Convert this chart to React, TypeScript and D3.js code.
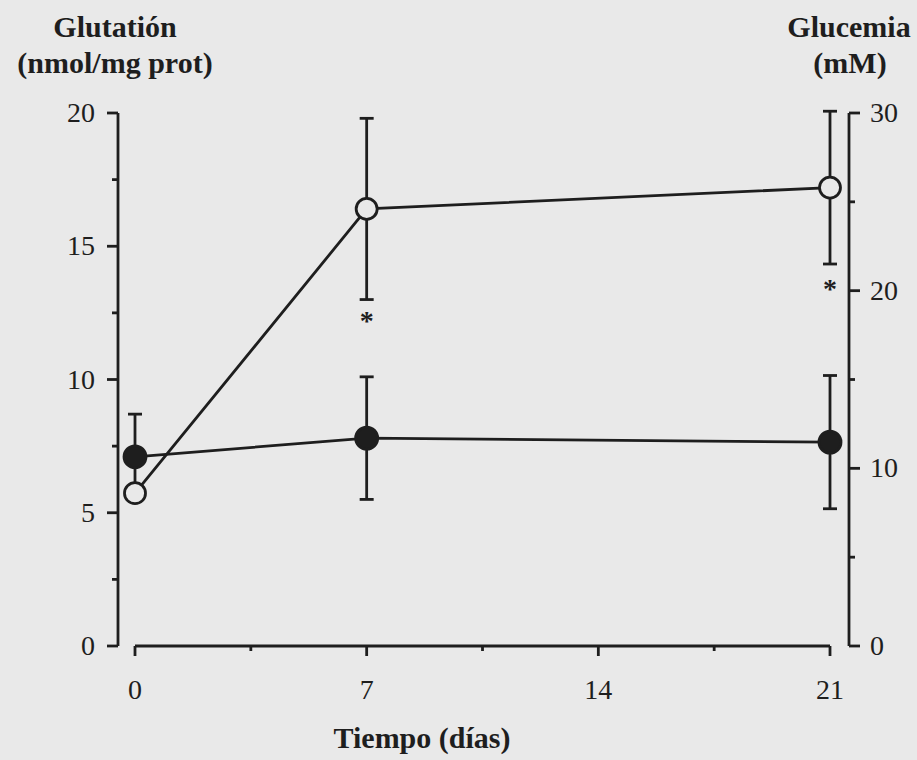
import React, { useEffect, useRef } from 'react';
import * as d3 from 'd3';

// days sampled
const days = [0, 7, 21];
// Glutatión (nmol/mg prot), filled circles, left axis
const glutation = [7.1, 7.8, 7.65];
const glutationErr = [1.6, 2.3, 2.5];
// Glucemia (mM), open circles, right axis
const glucemia = [8.6, 24.6, 25.8];
const glucemiaErr = [0, 5.1, 4.3];
// significance marks (y in mM)
const starDays = [7, 21];
const starY = [18.5, 20.3];

const xMajor = [0, 7, 14, 21];
const xMinor = [3.5, 10.5, 17.5];
const leftMajor = [0, 5, 10, 15, 20];
const leftMinor = [2.5, 7.5, 12.5, 17.5];
const rightMajor = [0, 10, 20, 30];
const rightMinor = [5, 15, 25];

const BG = '#e9e9e9';
const INK = '#1e1e1e';
const FONT = '"Liberation Serif", "Times New Roman", serif';

const App: React.FC = () => {
  const svgRef = useRef<SVGSVGElement>(null);

  useEffect(() => {
    const svg = d3.select(svgRef.current);
    svg.selectAll('*').remove();

    const W = 917;
    const H = 760;
    const yLeftX = 118;
    const yRightX = 849;

    const x = d3.scaleLinear().domain([0, 21]).range([135, 830]);
    const yL = d3.scaleLinear().domain([0, 20]).range([646, 113]);
    const yR = d3.scaleLinear().domain([0, 30]).range([646, 113]);

    svg.attr('width', W).attr('height', H);
    svg.append('rect').attr('width', W).attr('height', H).attr('fill', BG);

    const axes = svg.append('g').attr('stroke', INK).attr('stroke-width', 2.8).attr('fill', 'none');

    // left axis
    axes.append('line').attr('x1', yLeftX).attr('x2', yLeftX).attr('y1', yL(20)).attr('y2', yL(0));
    leftMajor.forEach(v => {
      axes.append('line').attr('x1', yLeftX - 11).attr('x2', yLeftX).attr('y1', yL(v)).attr('y2', yL(v));
    });
    leftMinor.forEach(v => {
      axes.append('line').attr('x1', yLeftX - 6).attr('x2', yLeftX).attr('y1', yL(v)).attr('y2', yL(v));
    });

    // right axis
    axes.append('line').attr('x1', yRightX).attr('x2', yRightX).attr('y1', yR(30)).attr('y2', yR(0));
    rightMajor.forEach(v => {
      axes.append('line').attr('x1', yRightX).attr('x2', yRightX + 11).attr('y1', yR(v)).attr('y2', yR(v));
    });
    rightMinor.forEach(v => {
      axes.append('line').attr('x1', yRightX).attr('x2', yRightX + 6).attr('y1', yR(v)).attr('y2', yR(v));
    });

    // x axis
    axes.append('line').attr('x1', x(0)).attr('x2', x(21)).attr('y1', 646).attr('y2', 646);
    xMajor.forEach(v => {
      axes.append('line').attr('x1', x(v)).attr('x2', x(v)).attr('y1', 646).attr('y2', 656);
    });
    xMinor.forEach(v => {
      axes.append('line').attr('x1', x(v)).attr('x2', x(v)).attr('y1', 646).attr('y2', 651);
    });

    const labels = svg.append('g').attr('fill', INK).style('font-family', FONT).style('font-size', '28px');
    leftMajor.forEach(v => {
      labels.append('text').attr('x', yLeftX - 23).attr('y', yL(v) + 9).attr('text-anchor', 'end').text(v);
    });
    rightMajor.forEach(v => {
      labels.append('text').attr('x', yRightX + 21).attr('y', yR(v) + 9).attr('text-anchor', 'start').text(v);
    });
    xMajor.forEach(v => {
      labels.append('text').attr('x', x(v)).attr('y', 699).attr('text-anchor', 'middle').text(v);
    });

    // titles
    const titles = svg.append('g').attr('fill', INK).style('font-family', FONT)
      .style('font-size', '30px').style('font-weight', 'bold').attr('text-anchor', 'middle');
    titles.append('text').attr('x', 115).attr('y', 37).text('Glutatión');
    titles.append('text').attr('x', 115).attr('y', 73).text('(nmol/mg prot)');
    titles.append('text').attr('x', 849).attr('y', 37).text('Glucemia');
    titles.append('text').attr('x', 850).attr('y', 73).text('(mM)');
    titles.append('text').attr('x', 422).attr('y', 748).text('Tiempo (días)');

    const marks = svg.append('g').attr('stroke', INK).attr('stroke-width', 2.8);

    // error bars
    const capW = 7;
    const drawErr = (vals: number[], errs: number[], y: d3.ScaleLinear<number, number>) => {
      vals.forEach((v, i) => {
        if (!errs[i]) return;
        const cx = x(days[i]);
        marks.append('line').attr('x1', cx).attr('x2', cx).attr('y1', y(v + errs[i])).attr('y2', y(v - errs[i]));
        [v + errs[i], v - errs[i]].forEach(e => {
          marks.append('line').attr('x1', cx - capW).attr('x2', cx + capW).attr('y1', y(e)).attr('y2', y(e));
        });
      });
    };
    drawErr(glutation, glutationErr, yL);
    drawErr(glucemia, glucemiaErr, yR);

    // connecting lines
    const lineL = d3.line<number>().x((_, i) => x(days[i])).y(d => yL(d));
    const lineR = d3.line<number>().x((_, i) => x(days[i])).y(d => yR(d));
    marks.append('path').datum(glutation).attr('fill', 'none').attr('d', lineL);
    marks.append('path').datum(glucemia).attr('fill', 'none').attr('d', lineR);

    // markers
    glutation.forEach((v, i) => {
      marks.append('circle').attr('cx', x(days[i])).attr('cy', yL(v)).attr('r', 11).attr('fill', INK);
    });
    glucemia.forEach((v, i) => {
      marks.append('circle').attr('cx', x(days[i])).attr('cy', yR(v)).attr('r', 10.5).attr('fill', BG);
    });

    // asterisks
    starDays.forEach((d, i) => {
      svg.append('text').attr('x', x(d)).attr('y', yR(starY[i]) + 13).attr('text-anchor', 'middle')
        .attr('fill', INK).style('font-family', FONT).style('font-size', '28px').style('font-weight', 'bold')
        .text('*');
    });
  }, []);

  return (
    <div style={{ position: 'absolute', left: 0, top: 0, width: 917, height: 760, background: BG }}>
      <svg ref={svgRef} style={{ display: 'block' }}></svg>
    </div>
  );
};

export default App;
